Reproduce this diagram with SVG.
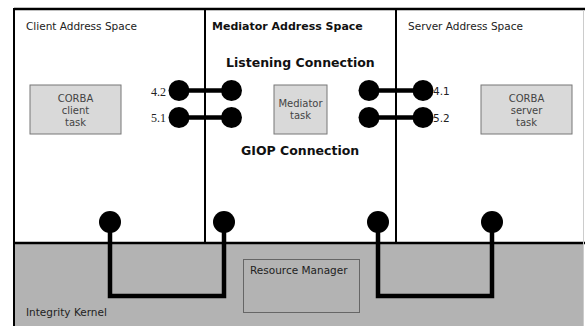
<svg xmlns="http://www.w3.org/2000/svg" width="585" height="326" viewBox="0 0 585 326">
<style>
.lbl{font-family:"DejaVu Sans","Liberation Sans",sans-serif;font-size:10.5px;fill:#222}
.bold{font-family:"DejaVu Sans","Liberation Sans",sans-serif;font-weight:bold;fill:#111}
.box{fill:#d9d9d9;stroke:#777;stroke-width:1}
.btxt{font-family:"DejaVu Sans","Liberation Sans",sans-serif;font-size:10px;fill:#444;text-anchor:middle}
.num{font-family:"Liberation Serif",serif;font-size:12px;fill:#222}
.wire{stroke:#000;stroke-width:4.5;fill:none}
.dot{fill:#000}
</style>
<rect x="0" y="0" width="585" height="326" fill="#fff"/>
<g id="kernel">
<rect x="14" y="243" width="570" height="83" fill="#b3b3b3"/>
<text class="lbl" x="26" y="316">Integrity Kernel</text>
</g>
<g id="frame">
<line x1="14" y1="9" x2="585" y2="9" stroke="#000" stroke-width="2.5"/>
<line x1="14" y1="8" x2="14" y2="326" stroke="#000" stroke-width="2"/>
<line x1="205" y1="9" x2="205" y2="243" stroke="#000" stroke-width="2"/>
<line x1="396" y1="9" x2="396" y2="243" stroke="#000" stroke-width="2"/>
<line x1="14" y1="243" x2="585" y2="243" stroke="#000" stroke-width="2.5"/>
<line x1="583.5" y1="10" x2="583.5" y2="326" stroke="#ccc" stroke-width="1"/>
</g>
<g id="client-space">
<text class="lbl" x="26" y="30">Client Address Space</text>
</g>
<g id="mediator-space">
<text class="bold" x="212" y="30" font-size="11px">Mediator Address Space</text>
</g>
<g id="server-space">
<text class="lbl" x="408" y="30">Server Address Space</text>
</g>
<g id="client-task">
<rect class="box" x="30" y="85" width="91" height="49"/>
<text class="btxt" x="75.5" y="102">CORBA</text>
<text class="btxt" x="75.5" y="114">client</text>
<text class="btxt" x="75.5" y="126">task</text>
</g>
<g id="mediator-task">
<rect class="box" x="274" y="85" width="53" height="49"/>
<text class="btxt" x="300.5" y="107">Mediator</text>
<text class="btxt" x="300.5" y="119">task</text>
</g>
<g id="server-task">
<rect class="box" x="481" y="85" width="91" height="49"/>
<text class="btxt" x="526.5" y="102">CORBA</text>
<text class="btxt" x="526.5" y="114">server</text>
<text class="btxt" x="526.5" y="126">task</text>
</g>
<g id="resource-manager">
<rect x="243.5" y="259.5" width="116" height="53" fill="none" stroke="#666" stroke-width="1"/>
<text class="lbl" x="250" y="274">Resource Manager</text>
</g>
<g id="listening-label">
<text class="bold" x="226" y="67" font-size="12.5px">Listening Connection</text>
</g>
<g id="giop-label">
<text class="bold" x="241" y="155" font-size="12.5px">GIOP Connection</text>
</g>
<g id="connectors">
<line class="wire" x1="179" y1="90.5" x2="231.5" y2="90.5"/>
<line class="wire" x1="179" y1="117.5" x2="231.5" y2="117.5"/>
<line class="wire" x1="369" y1="90.5" x2="423" y2="90.5"/>
<line class="wire" x1="369" y1="117.5" x2="423" y2="117.5"/>
<circle class="dot" cx="179" cy="90.5" r="10.5"/>
<circle class="dot" cx="231.5" cy="90.5" r="10.5"/>
<circle class="dot" cx="179" cy="117.5" r="10.5"/>
<circle class="dot" cx="231.5" cy="117.5" r="10.5"/>
<circle class="dot" cx="369" cy="90.5" r="10.5"/>
<circle class="dot" cx="423" cy="90.5" r="10.5"/>
<circle class="dot" cx="369" cy="117.5" r="10.5"/>
<circle class="dot" cx="423" cy="117.5" r="10.5"/>
<text class="num" x="151" y="96">4.2</text>
<text class="num" x="151" y="122">5.1</text>
<text class="lbl" x="433" y="95" font-size="11px">4.1</text>
<text class="lbl" x="433" y="122" font-size="11px">5.2</text>
<polyline class="wire" points="110,223 110,296 224,296 224,223"/>
<polyline class="wire" points="378,223 378,296 492,296 492,223"/>
<circle class="dot" cx="110" cy="222" r="11"/>
<circle class="dot" cx="224" cy="222" r="11"/>
<circle class="dot" cx="378" cy="222" r="11"/>
<circle class="dot" cx="492" cy="222" r="11"/>
</g>
</svg>
